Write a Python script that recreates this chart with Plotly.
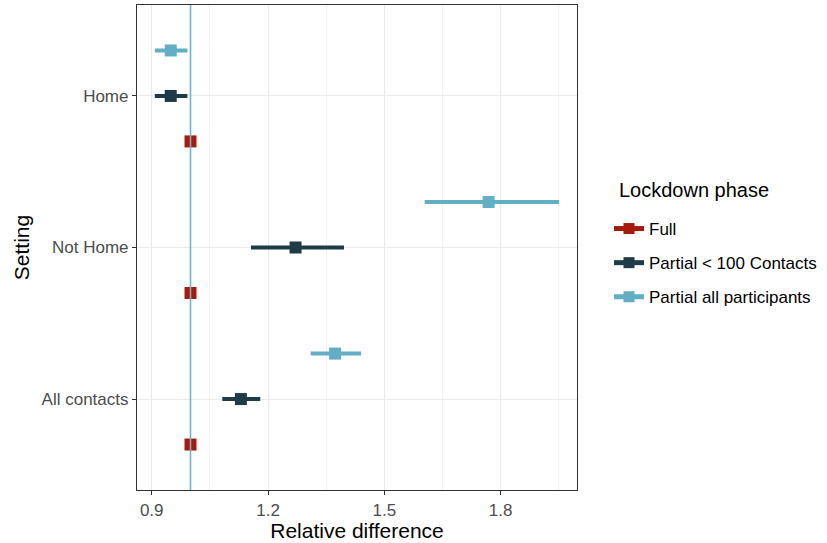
import plotly.graph_objects as go

settings = ["All contacts", "Not Home", "Home"]  # bottom to top
phases = ["Full", "Partial < 100 Contacts", "Partial all participants"]
colors = ["#A51A0D", "#1F3B47", "#62AEC5"]

# per phase, values for settings in order [All contacts, Not Home, Home]
est = {
    "Full": [1.0, 1.0, 1.0],
    "Partial < 100 Contacts": [1.130, 1.271, 0.949],
    "Partial all participants": [1.373, 1.769, 0.949],
}
lo = {
    "Full": [1.0, 1.0, 1.0],
    "Partial < 100 Contacts": [1.082, 1.156, 0.908],
    "Partial all participants": [1.310, 1.604, 0.908],
}
hi = {
    "Full": [1.0, 1.0, 1.0],
    "Partial < 100 Contacts": [1.180, 1.396, 0.992],
    "Partial all participants": [1.440, 1.951, 0.992],
}
x_ticks = [0.9, 1.2, 1.5, 1.8]
legend_title = "Lockdown phase"

dodge = {"Full": -0.3, "Partial < 100 Contacts": 0.0, "Partial all participants": 0.3}

fig = go.Figure()
for p, c in zip(phases, colors):
    ys = [i + 1 + dodge[p] for i in range(len(settings))]
    e = est[p]
    fig.add_trace(go.Scatter(
        x=e, y=ys, mode="markers",
        marker=dict(symbol="square", size=12, color=c),
        error_x=dict(type="data", symmetric=False,
                     array=[h - v for h, v in zip(hi[p], e)],
                     arrayminus=[v - l for v, l in zip(e, lo[p])],
                     thickness=4, width=0, color=c),
        showlegend=False, hoverinfo="x+y",
    ))
for p, c in zip(phases, colors):
    fig.add_trace(go.Scatter(
        x=[None], y=[None], mode="lines+markers", name=p, legendgroup=p,
        line=dict(color=c, width=5),
        marker=dict(symbol="square", size=11, color=c),
    ))

fig.add_vline(x=1.0, line=dict(color="#6BB5CF", width=1.6), layer="above")

fig.add_annotation(
    text=legend_title, xref="paper", yref="paper",
    x=(617 - 137) / 440, y=(490 - 190) / 485, xanchor="left", yanchor="middle",
    showarrow=False, font=dict(size=20, color="#000000"),
)

fig.update_layout(
    width=827, height=543,
    margin=dict(l=137, r=250, t=5, b=53),
    paper_bgcolor="white", plot_bgcolor="white",
    font=dict(family="Liberation Sans, Arial, sans-serif", size=17, color="#000000"),
    xaxis=dict(
        range=[0.862, 1.997], tickvals=x_ticks, ticktext=[str(t) for t in x_ticks],
        showgrid=True, gridcolor="#EBEBEB", gridwidth=1.2,
        minor=dict(tickvals=[1.05, 1.35, 1.65, 1.95], showgrid=True, gridcolor="#F2F2F2", gridwidth=0.8, ticks=""),
        ticks="outside", ticklen=4, tickcolor="#333333", tickwidth=1.2,
        tickfont=dict(size=17, color="#4D4D4D"),
        title=dict(text="Relative difference", font=dict(size=21, color="#000000"), standoff=1),
        showline=True, linecolor="#333333", linewidth=1.2, mirror=True, zeroline=False,
        automargin=False,
    ),
    yaxis=dict(
        range=[0.4, 3.6], tickvals=[1, 2, 3], ticktext=settings,
        showgrid=True, gridcolor="#EBEBEB", gridwidth=1.2,
        ticks="outside", ticklen=4, tickcolor="#333333", tickwidth=1.2,
        tickfont=dict(size=17, color="#4D4D4D"),
        title=dict(text="Setting", font=dict(size=21, color="#000000"), standoff=6),
        showline=True, linecolor="#333333", linewidth=1.2, mirror=True, zeroline=False,
        automargin=False,
    ),
    legend=dict(
        x=(609 - 137) / 440, xanchor="left", y=(490 - 211) / 485, yanchor="top",
        font=dict(size=17, color="#000000"),
        tracegroupgap=9, itemwidth=30,
    ),
)

fig.write_html("out.html", config={"displayModeBar": False},
               post_script="document.body.style.margin='0';document.body.style.overflow='hidden';")
